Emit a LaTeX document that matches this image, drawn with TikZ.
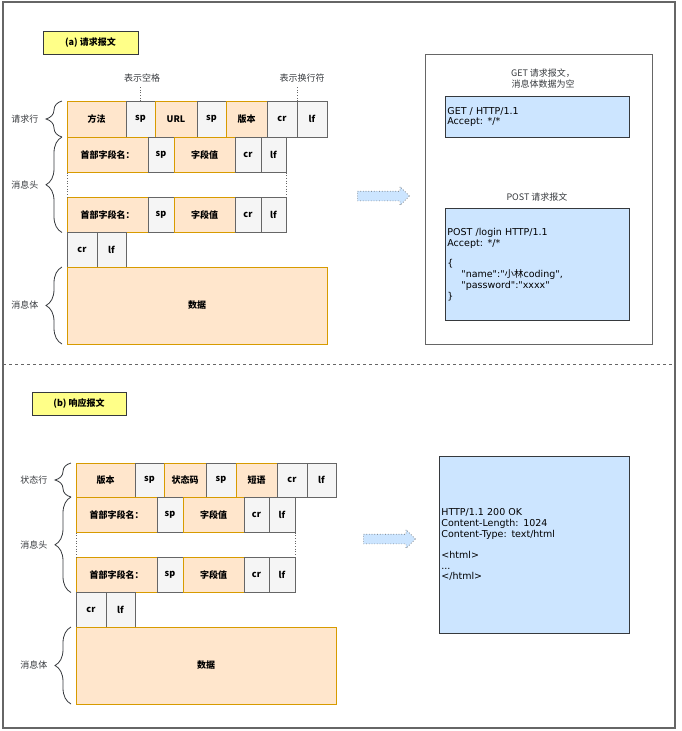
\documentclass[tikz,border=0pt]{standalone}
\usepackage{fontspec}
\setmainfont{Noto Sans CJK SC}
\newfontfamily\codefont{DejaVu Sans}
\newfontfamily\cjk{Noto Sans CJK SC}
\usetikzlibrary{positioning,decorations.pathreplacing,shapes.arrows}

\definecolor{fieldfill}{HTML}{FFE6CC}
\definecolor{fieldline}{HTML}{D79B00}
\definecolor{blankfill}{HTML}{F5F5F5}
\definecolor{blankline}{HTML}{666666}
\definecolor{codefill}{HTML}{CCE5FF}
\definecolor{titlefill}{HTML}{FFFF88}
\definecolor{darkline}{HTML}{36393D}

\tikzset{
  cell/.style={draw, line width=0.8pt, anchor=north west, inner sep=0pt, outer sep=0pt,
    font=\fontsize{9}{11}\selectfont\bfseries, text=black},
  field/.style={cell, fill=fieldfill, draw=fieldline},
  blank/.style={cell, fill=blankfill, draw=blankline},
  titlebox/.style={cell, fill=titlefill, draw=darkline},
  codebox/.style={draw=darkline, line width=0.8pt, fill=codefill, anchor=north west,
    inner xsep=2pt, inner ysep=0pt, align=left, font=\codefont\fontsize{9.5}{10.8}\selectfont},
  brace/.style={decorate, decoration={brace, amplitude=16pt}, draw=darkline, line width=0.8pt},
  bracelabel/.style={midway, left=20pt, font=\fontsize{9}{11}\selectfont, text=darkline},
  note/.style={font=\fontsize{9}{11}\selectfont, text=darkline},
  guide/.style={dotted, draw=blankline, line width=0.7pt},
  flow/.style={single arrow, draw=blankline, dotted, line width=0.7pt, fill=codefill,
    inner xsep=0pt, inner ysep=4.5pt, text height=0pt, text depth=0pt,
    minimum height=52pt, single arrow head extend=4.5pt, anchor=west}
}

\begin{document}
\begin{tikzpicture}[x=1pt,y=-1pt]
    \useasboundingbox (0,0) rectangle (681,731);

    % Outer frame and separator
    \draw[line width=1.6pt, blankline] (3,2) rectangle (675,728);
    \draw[dashed, blankline, line width=0.7pt] (3,364) -- (675,364);

    %%% (a) request message
    \node[titlebox, minimum width=95pt, minimum height=23pt] (reqtitle) at (43,31) {(a)\ 请求报文};

    % Request line
    \foreach \n/\x/\w/\s/\t in {method/67/59/field/方法, spa/126/29/blank/sp, url/155/42/field/URL,
        spb/197/29/blank/sp, ver/226/41/field/版本, cr/267/30/blank/cr, lf/297/30/blank/lf}
        \node[\s, minimum width=\w, minimum height=36] (req\n) at (\x,101) {\t};

    % Header lines
    \foreach \r/\y in {1/137, 2/197} {
        \foreach \n/\x/\w/\s/\t in {name/67/81/field/首部字段名：, sp/148/26/blank/sp,
            val/174/61/field/字段值, cr/235/26/blank/cr, lf/261/25/blank/lf}
            \node[\s, minimum width=\w, minimum height=35.5] (reqh\r\n) at (\x,\y) {\t};
    }
    \draw[guide] (reqh1name.south west) -- (reqh2name.north west);
    \draw[guide] (reqh1lf.south east) -- (reqh2lf.north east);

    % Empty line and body
    \node[blank, minimum width=30, minimum height=35] (reqecr) at (67,232) {cr};
    \node[blank, minimum width=29, minimum height=35] (reqelf) at (97,232) {lf};
    \node[field, minimum width=260, minimum height=77] (reqdata) at (67,267) {数据};

    % Notes
    \node[note] (spnote) at (142,78) {表示空格};
    \node[note] (crlfnote) at (302,78) {表示换行符};
    \draw[guide] (reqspa.north) -- (reqspa.north |- spnote.south);
    \draw[guide] (reqcr.north east) -- (reqcr.north east |- crlfnote.south);

    % Braces
    \draw[brace] ([xshift=-5]reqmethod.south west) -- ([xshift=-5]reqmethod.north west)
        node[bracelabel] {请求行};
    \draw[brace] ([xshift=-5]reqh2name.south west) -- ([xshift=-5]reqh1name.north west)
        node[bracelabel] {消息头};
    \draw[brace] ([xshift=-5]reqdata.south west) -- ([xshift=-5]reqdata.north west)
        node[bracelabel] {消息体};

    % Examples
    \node[flow] (reqarrow) at (357,196) {};
    \node[draw=blankline, line width=0.8pt, anchor=north west, minimum width=227, minimum height=290] (reqpanel) at (425,54) {};
    \node[note, align=center] (getnote) at (543,78.5) {GET 请求报文，\\消息体数据为空};
    \node[codebox, minimum width=184, minimum height=41, text width=180] (getbox) at (445,96)
        {GET / HTTP/1.1\\Accept: */*};
    \node[note] (postnote) at (537,197) {POST 请求报文};
    \node[codebox, minimum width=184, minimum height=112, text width=180] (postbox) at (445,208)
        {POST /login HTTP/1.1\\Accept: */*\\[10pt]\{\\
        \hspace*{14pt}"name":"{\cjk 小林}coding",\\
        \hspace*{14pt}"password":"xxxx"\\\}};

    %%% (b) response message
    \node[titlebox, minimum width=94pt, minimum height=23pt] (restitle) at (32,392) {(b)\ 响应报文};

    % Status line
    \foreach \n/\x/\w/\s/\t in {ver/76/59/field/版本, spa/135/29/blank/sp, code/164/42/field/状态码,
        spb/206/30/blank/sp, phrase/236/41/field/短语, cr/277/30/blank/cr, lf/307/29/blank/lf}
        \node[\s, minimum width=\w, minimum height=34] (res\n) at (\x,463) {\t};

    % Header lines
    \foreach \r/\y in {1/497, 2/557} {
        \foreach \n/\x/\w/\s/\t in {name/76/81/field/首部字段名：, sp/157/26/blank/sp,
            val/183/61/field/字段值, cr/244/25/blank/cr, lf/269/26/blank/lf}
            \node[\s, minimum width=\w, minimum height=35.5] (resh\r\n) at (\x,\y) {\t};
    }
    \draw[guide] (resh1name.south west) -- (resh2name.north west);
    \draw[guide] (resh1lf.south east) -- (resh2lf.north east);

    % Empty line and body
    \node[blank, minimum width=30, minimum height=35] (resecr) at (76,592) {cr};
    \node[blank, minimum width=29, minimum height=35] (reself) at (106,592) {lf};
    \node[field, minimum width=260, minimum height=77] (resdata) at (76,627) {数据};

    % Braces
    \draw[brace] ([xshift=-5]resver.south west) -- ([xshift=-5]resver.north west)
        node[bracelabel] {状态行};
    \draw[brace] ([xshift=-5]resh2name.south west) -- ([xshift=-5]resh1name.north west)
        node[bracelabel] {消息头};
    \draw[brace] ([xshift=-5]resdata.south west) -- ([xshift=-5]resdata.north west)
        node[bracelabel] {消息体};

    % Example
    \node[flow] (resarrow) at (363,539) {};
    \node[codebox, minimum width=190, minimum height=177, text width=186] (resbox) at (439,456)
        {HTTP/1.1 200 OK\\Content-Length: 1024\\Content-Type: text/html\\[10pt]
        <html>\\...\\</html>};
\end{tikzpicture}
\end{document}
